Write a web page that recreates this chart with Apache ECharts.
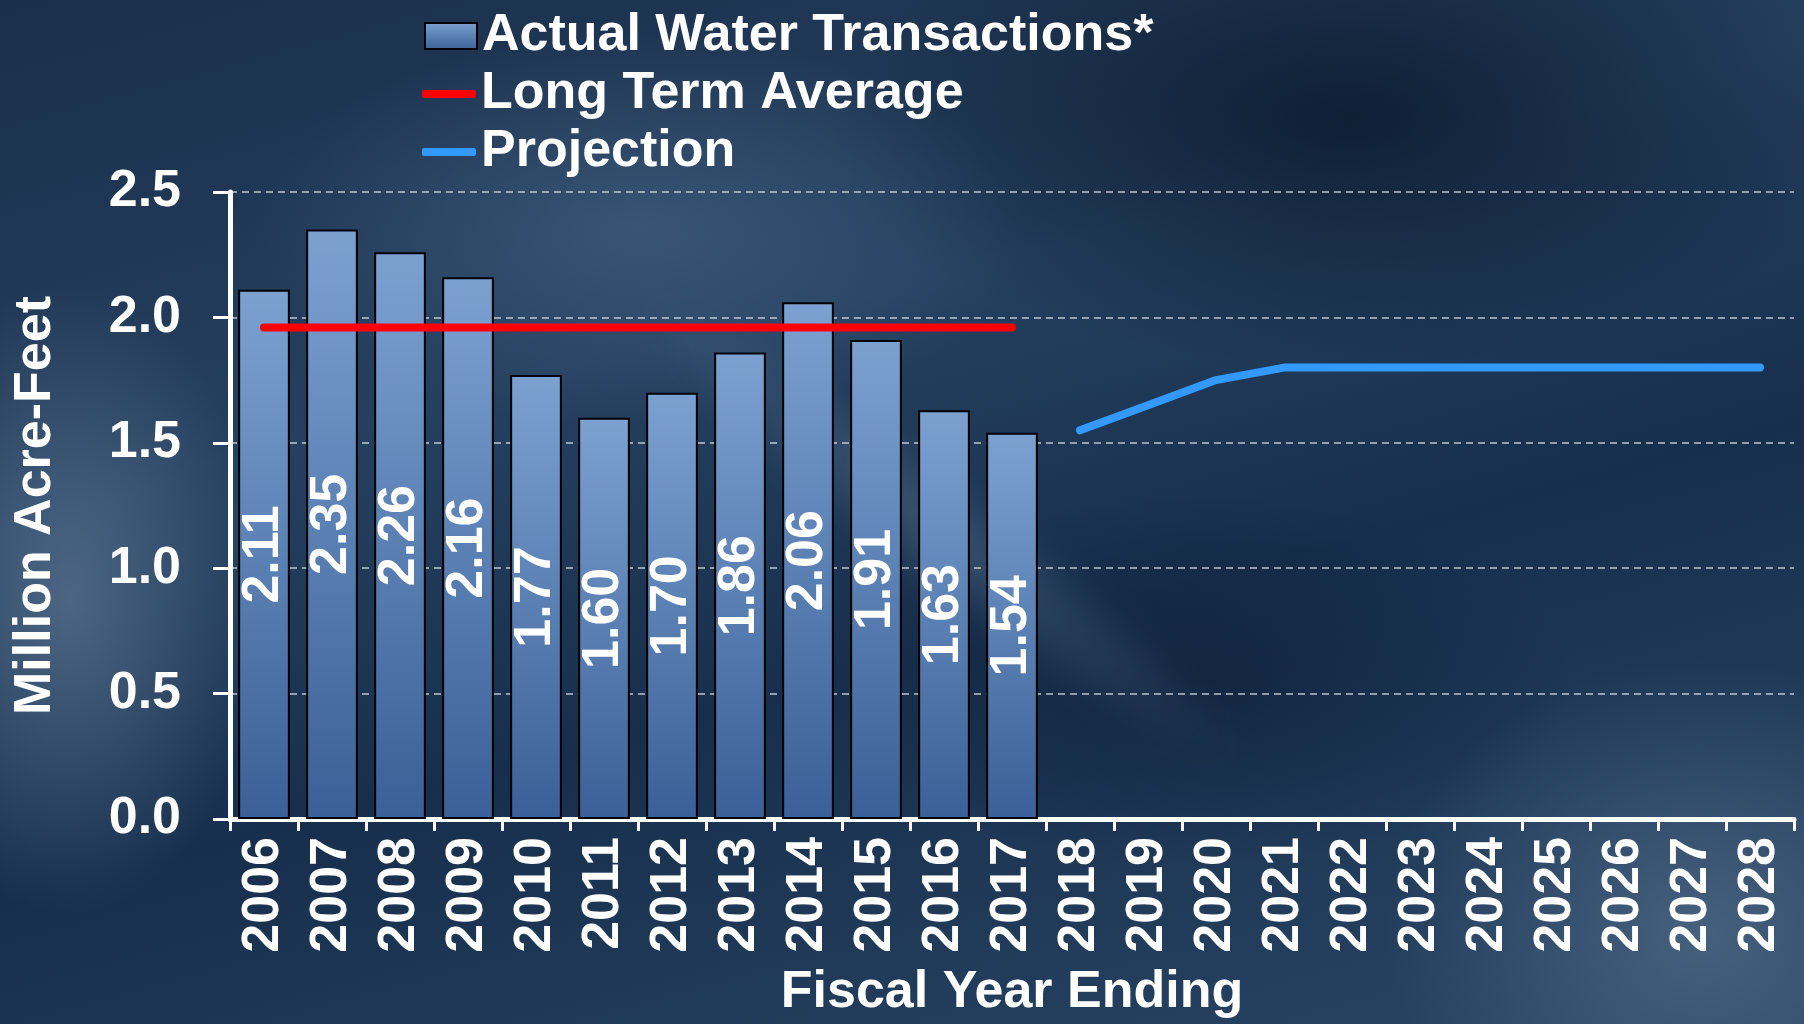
<!DOCTYPE html>
<html>
<head>
<meta charset="utf-8">
<title>Water Transactions</title>
<script src="https://cdn.jsdelivr.net/npm/echarts@6/dist/echarts.min.js"></script>
<style>
  html, body { margin: 0; padding: 0; background: #162c47; }
  #wrap {
    position: relative;
    width: 1804px;
    height: 1024px;
    overflow: hidden;
    background:
      radial-gradient(ellipse 260px 420px at 70px 600px, rgba(110,135,165,0.55), rgba(110,135,165,0) 75%),
      radial-gradient(ellipse 520px 260px at 640px 230px, rgba(85,115,150,0.45), rgba(85,115,150,0) 75%),
      radial-gradient(ellipse 420px 360px at 1700px 930px, rgba(95,120,150,0.55), rgba(95,120,150,0) 75%),
      radial-gradient(ellipse 700px 330px at 1350px 120px, rgba(4,14,30,0.65), rgba(4,14,30,0) 75%),
      radial-gradient(ellipse 500px 250px at 1200px 680px, rgba(8,22,45,0.45), rgba(8,22,45,0) 75%),
      linear-gradient(165deg, #1a2f4b 0%, #25405f 35%, #172f4d 60%, #2a4665 100%);
  }
  /* soft light streak running down-right through the middle */
  #streak {
    position: absolute;
    left: 560px;
    top: 470px;
    width: 760px;
    height: 120px;
    transform: rotate(38deg);
    background: radial-gradient(ellipse at center, rgba(120,145,175,0.32), rgba(120,145,175,0) 70%);
    filter: blur(12px);
  }
  #chart { position: absolute; left: 0; top: 0; width: 1804px; height: 1024px; }
</style>
</head>
<body>
<div id="wrap">
  <div id="streak"></div>
  <div id="chart"></div>
</div>
<script>
// Fiscal years on the category axis
const years = ['2006','2007','2008','2009','2010','2011','2012','2013','2014','2015','2016','2017',
               '2018','2019','2020','2021','2022','2023','2024','2025','2026','2027','2028'];

// Actual water transactions (million acre-feet), FY2006–FY2017
const actualValues = [2.11, 2.35, 2.26, 2.16, 1.77, 1.60, 1.70, 1.86, 2.06, 1.91, 1.63, 1.54];

// Long term average over the actual years
const averageValues = [1.96, 1.96, 1.96, 1.96, 1.96, 1.96, 1.96, 1.96, 1.96, 1.96, 1.96, 1.96];

// Projection, FY2018–FY2028
const projectionValues = [1.55, 1.65, 1.75, 1.80, 1.80, 1.80, 1.80, 1.80, 1.80, 1.80, 1.80];

// Value-axis ticks
const yMin = 0, yMax = 2.5, yStep = 0.5;

const FONT = "'Liberation Sans', Arial, Helvetica, sans-serif";
const blank = n => Array(n).fill('-');

const barSeriesData = actualValues.concat(blank(years.length - actualValues.length));
const avgSeriesData = averageValues.concat(blank(years.length - averageValues.length));
const projSeriesData = blank(years.length - projectionValues.length).concat(projectionValues);

const chart = echarts.init(document.getElementById('chart'), null, { renderer: 'canvas' });

const legendText = {
  color: '#ffffff',
  fontFamily: FONT,
  fontSize: 52,
  fontWeight: 'bold',
  lineHeight: 52
};

chart.setOption({
  backgroundColor: 'transparent',
  animation: false,
  textStyle: { fontFamily: FONT },
  legend: [
    {
      data: ['Actual Water Transactions*'],
      left: 419,
      top: 5,
      icon: 'rect',
      itemWidth: 52,
      itemHeight: 26,
      selectedMode: false,
      textStyle: legendText
    },
    {
      data: ['Long Term Average', 'Projection'],
      orient: 'vertical',
      left: 417,
      top: 63,
      icon: 'roundRect',
      itemWidth: 54,
      itemHeight: 8,
      itemGap: 6,
      selectedMode: false,
      textStyle: legendText
    }
  ],
  grid: {
    left: 230,
    right: 10,
    top: 192,
    bottom: 205,
    outerBoundsMode: 'none',
    containLabel: false
  },
  xAxis: {
    type: 'category',
    data: years,
    boundaryGap: true,
    name: 'Fiscal Year Ending',
    nameLocation: 'middle',
    nameGap: 148,
    nameTextStyle: { color: '#ffffff', fontSize: 52, fontWeight: 'bold', fontFamily: FONT },
    axisLine: { show: true, lineStyle: { color: '#ffffff', width: 5 } },
    axisTick: { show: true, length: 12, lineStyle: { color: '#ffffff', width: 3 } },
    axisLabel: {
      rotate: 90,
      margin: 18,
      interval: 0,
      color: '#ffffff',
      fontSize: 52,
      fontWeight: 'bold',
      fontFamily: FONT
    },
    splitLine: { show: false }
  },
  yAxis: {
    type: 'value',
    min: yMin,
    max: yMax,
    interval: yStep,
    name: 'Million Acre-Feet',
    nameLocation: 'middle',
    nameGap: 168,
    nameTextStyle: { color: '#ffffff', fontSize: 52, fontWeight: 'bold', fontFamily: FONT },
    axisLine: { show: true, lineStyle: { color: '#ffffff', width: 5 } },
    axisTick: { show: true, length: 17, lineStyle: { color: '#ffffff', width: 3 } },
    axisLabel: {
      margin: 49,
      color: '#ffffff',
      fontSize: 52,
      fontWeight: 'bold',
      fontFamily: FONT,
      formatter: v => v.toFixed(1)
    },
    splitLine: {
      show: true,
      lineStyle: { color: 'rgba(215,222,230,0.85)', width: 1.5, type: [7, 5] }
    }
  },
  series: [
    {
      name: 'Actual Water Transactions*',
      type: 'bar',
      data: barSeriesData,
      barWidth: '76%',
      z: 2,
      itemStyle: {
        color: new echarts.graphic.LinearGradient(0, 0, 0, 1, [
          { offset: 0, color: '#7ca1d1' },
          { offset: 1, color: '#3a6097' }
        ]),
        borderColor: '#000000',
        borderWidth: 2
      },
      label: {
        show: true,
        position: 'inside',
        rotate: 90,
        color: '#ffffff',
        fontSize: 52,
        fontWeight: 'bold',
        fontFamily: FONT,
        formatter: p => p.value.toFixed(2)
      }
    },
    {
      name: 'Long Term Average',
      type: 'line',
      data: avgSeriesData,
      color: '#ff0000',
      symbol: 'none',
      z: 3,
      lineStyle: { color: '#ff0000', width: 8, cap: 'round' }
    },
    {
      name: 'Projection',
      type: 'line',
      data: projSeriesData,
      color: '#3399ff',
      symbol: 'none',
      z: 3,
      lineStyle: { color: '#3399ff', width: 8, cap: 'round', join: 'round' }
    }
  ]
});
</script>
</body>
</html>
